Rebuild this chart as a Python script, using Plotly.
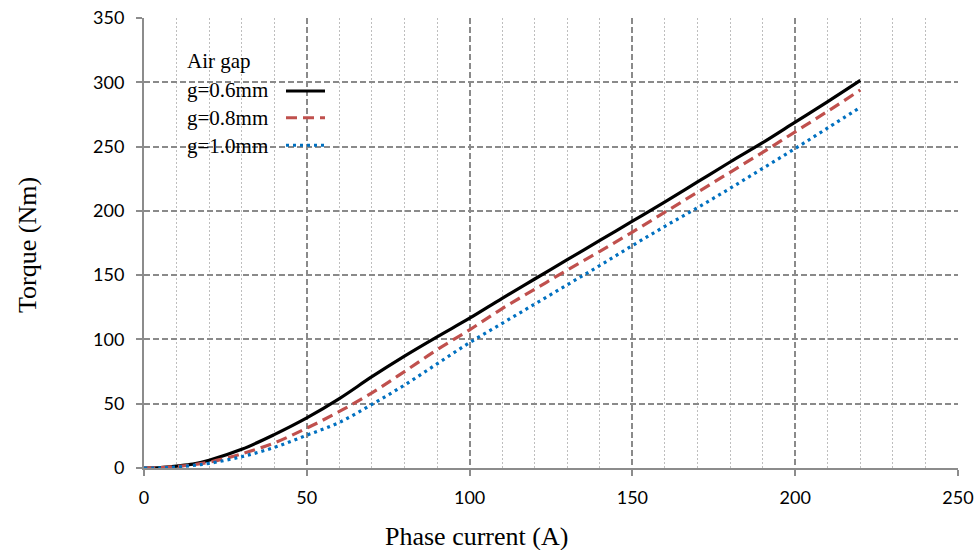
import plotly.graph_objects as go

current = [0, 5, 10, 15, 20, 30, 40, 50, 60, 70, 80, 90, 100, 110, 120, 130, 140, 150, 160, 170, 180, 190, 200, 210, 220]
torque_g06 = [0, 0.3, 1.5, 3.0, 6.0, 14.5, 26, 39, 54, 71, 87, 102, 116.5, 132, 147, 162, 177, 192, 207, 222.5, 238, 253, 269, 285, 301.5]
torque_g08 = [0, 0.2, 1.2, 2.5, 4.5, 11, 19.5, 31, 44, 58.5, 75, 92, 107.5, 124, 139, 154, 168.5, 183.5, 199, 214.5, 230, 245.5, 261.5, 277.5, 294]
torque_g10 = [0, 0.1, 0.8, 2.0, 3.6, 8.8, 16, 25.5, 35.5, 49.5, 64.5, 81, 97.5, 112.5, 127.5, 142.5, 157.5, 173, 188, 202.5, 217.5, 233, 248.5, 264.5, 280.5]

series_names = ["g=0.6mm", "g=0.8mm", "g=1.0mm"]
series_colors = ["#000000", "#C0504D", "#0070C0"]
series_dash = ["solid", "11px,6px", "3px,4px"]
legend_title = "Air gap"
x_title = "Phase current (A)"
y_title = "Torque (Nm)"

fig = go.Figure()
for name, ys, col, dash in zip(series_names, [torque_g06, torque_g08, torque_g10], series_colors, series_dash):
    fig.add_trace(go.Scatter(x=current, y=ys, mode="lines", name=name,
                             line=dict(color=col, width=3.2, dash=dash, shape="spline", smoothing=1.0)))

L, R, T, B = 144, 18, 18, 82
W, H = 976, 550
pw, ph = W - L - R, H - T - B

def px(x):
    return (x - L) / pw

def py(y):
    return (H - B - y) / ph

grid_major = "#8A8A8A"
grid_minor = "#BEBEBE"
serif = "Liberation Serif, Times New Roman, serif"

fig.update_layout(
    width=W, height=H,
    margin=dict(l=L, r=R, t=T, b=B, autoexpand=False),
    plot_bgcolor="white", paper_bgcolor="white",
    showlegend=False,
    font=dict(family="Lato, sans-serif", size=18, color="#000000"),
)
fig.update_xaxes(
    range=[0, 250], tick0=0, dtick=50, automargin=False,
    showline=True, linecolor="#8C8C8C", linewidth=2,
    ticks="outside", ticklen=6, tickcolor="#8C8C8C", tickwidth=2,
    showgrid=True, gridcolor=grid_major, gridwidth=1.5, griddash="6px,3px",
    minor=dict(dtick=10, showgrid=True, gridcolor=grid_minor, gridwidth=1, griddash="2px,2px", ticks=""),
    zeroline=False, ticklabelstandoff=6,
)
fig.update_yaxes(
    range=[0, 350], tick0=0, dtick=50, automargin=False,
    showline=True, linecolor="#8C8C8C", linewidth=2,
    ticks="outside", ticklen=6, tickcolor="#8C8C8C", tickwidth=2,
    showgrid=True, gridcolor=grid_major, gridwidth=1.5, griddash="6px,3px",
    zeroline=False, ticklabelstandoff=8,
)

# legend background
fig.add_shape(type="rect", xref="paper", yref="paper", x0=px(163), x1=px(367), y0=py(182), y1=py(35),
              fillcolor="white", line=dict(width=0), layer="between")

# custom legend
fig.add_annotation(xref="paper", yref="paper", x=px(185), y=py(61), text=legend_title, showarrow=False,
                   xanchor="left", yanchor="middle", font=dict(family=serif, size=21, color="#000000"))
legend_y = [90, 118, 146]
line_y = [91, 117.7, 145.3]
for name, col, dash, ty, ly in zip(series_names, series_colors, series_dash, legend_y, line_y):
    fig.add_annotation(xref="paper", yref="paper", x=px(185), y=py(ty), text=name, showarrow=False,
                       xanchor="left", yanchor="middle", font=dict(family=serif, size=21, color="#000000"))
    fig.add_shape(type="line", xref="paper", yref="paper", x0=px(286), x1=px(325), y0=py(ly), y1=py(ly),
                  line=dict(color=col, width=3, dash=dash))

# axis titles
fig.add_annotation(xref="paper", yref="paper", x=px(476), y=py(536), text=x_title, showarrow=False,
                   xanchor="center", yanchor="middle", font=dict(family=serif, size=26, color="#000000"))
fig.add_annotation(xref="paper", yref="paper", x=px(27), y=py(245), text=y_title, showarrow=False, textangle=-90,
                   xanchor="center", yanchor="middle", font=dict(family=serif, size=26, color="#000000"))

fig.write_html("out.html", config={"displayModeBar": False},
               post_script="document.body.style.margin='0';document.body.style.padding='0';")
